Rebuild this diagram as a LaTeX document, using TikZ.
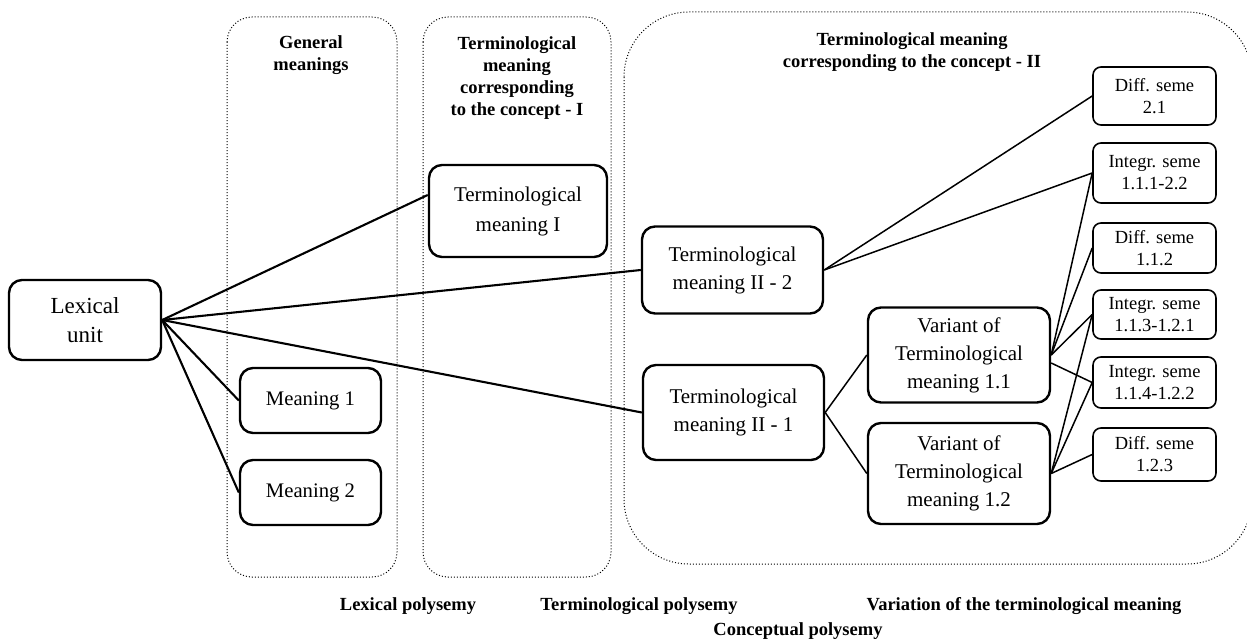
\documentclass[tikz,border=0pt]{standalone}
\usepackage{fontspec}
\setmainfont{Liberation Serif}
\usetikzlibrary{calc}
\tikzset{
  bigbox/.style={draw, line width=2.4pt, rounded corners=13pt, align=center, inner sep=0pt,
    font=\fontsize{21}{28}\selectfont},
  semebox/.style={draw, line width=1.6pt, rounded corners=8pt, align=center, inner sep=0pt,
    minimum width=123pt, font=\fontsize{18.5}{22}\selectfont},
  zone/.style={dotted, line width=1pt},
  heading/.style={align=center, inner sep=0pt, font=\bfseries\fontsize{18.5}{22}\selectfont},
  link/.style={line width=2.1pt},
  thinlink/.style={line width=1.5pt},
}
\begin{document}
\begin{tikzpicture}[x=1pt,y=-1pt]
\useasboundingbox (0,0) rectangle (1247,642);
\clip (0,0) rectangle (1247,642);

% dotted zones
\draw[zone, rounded corners=25pt] (227,17) rectangle (397,577);
\draw[zone, rounded corners=25pt] (423,17) rectangle (611,577);
\draw[zone, rounded corners=65pt] (624,12) rectangle (1252,564);

% zone headings
\node[heading] (hA) at (311,55) {General\\meanings};
\node[heading] (hB) at (517,78) {Terminological\\meaning\\corresponding\\to the concept - I};
\node[heading] (hC) at (912,52) {Terminological meaning\\corresponding to the concept - II};

% main boxes
\node[bigbox, minimum width=152pt, minimum height=80pt, font=\fontsize{23}{29}\selectfont] (lex) at (85,320) {Lexical\\unit};
\node[bigbox, minimum width=141pt, minimum height=65pt, font=\fontsize{20.7}{26}\selectfont] (m1) at (310.5,400.5) {Meaning 1};
\node[bigbox, minimum width=141pt, minimum height=65pt, font=\fontsize{20.7}{26}\selectfont] (m2) at (310.5,492.5) {Meaning 2};
\node[bigbox, minimum width=178pt, minimum height=92pt, font=\fontsize{21}{30}\selectfont] (tI) at (518,211) {Terminological\\meaning I};
\node[bigbox, minimum width=181pt, minimum height=87pt] (tII2) at (732.5,270) {Terminological\\meaning II - 2};
\node[bigbox, minimum width=181pt, minimum height=95pt] (tII1) at (733.5,412.5) {Terminological\\meaning II - 1};
\node[bigbox, minimum width=182pt, minimum height=95pt] (v11) at (959,355) {Variant of\\Terminological\\meaning 1.1};
\node[bigbox, minimum width=182pt, minimum height=101pt] (v12) at (959,473.5) {Variant of\\Terminological\\meaning 1.2};

% seme boxes
\node[semebox, minimum height=58pt] (d21) at (1154.5,96) {Diff. seme\\2.1};
\node[semebox, minimum height=60pt] (i111) at (1154.5,173) {Integr. seme\\1.1.1-2.2};
\node[semebox, minimum height=50pt] (d112) at (1154.5,248) {Diff. seme\\1.1.2};
\node[semebox, minimum height=49pt] (i113) at (1154.5,314.5) {Integr. seme\\1.1.3-1.2.1};
\node[semebox, minimum height=51pt] (i114) at (1154.5,382.5) {Integr. seme\\1.1.4-1.2.2};
\node[semebox, minimum height=53pt] (d123) at (1154.5,454.5) {Diff. seme\\1.2.3};

% connectors from the lexical unit
\draw[link] (lex.east) -- ($(tI.north west)!0.33!(tI.south west)$);
\draw[link] (lex.east) -- (tII2.west);
\draw[link] (lex.east) -- (tII1.west);
\draw[link] (lex.east) -- (m1.west);
\draw[link] (lex.east) -- (m2.west);

% terminological meaning II - 1 to its variants
\draw[thinlink] (tII1.east) -- (v11.west);
\draw[thinlink] (tII1.east) -- (v12.west);

% semes
\draw[thinlink] (tII2.east) -- (d21.west);
\draw[thinlink] (tII2.east) -- (i111.west);
\draw[thinlink] (v11.east) -- (i111.west);
\draw[thinlink] (v11.east) -- (d112.west);
\draw[thinlink] (v11.east) -- (i113.west);
\draw[thinlink] ($(v11.east)+(0,8)$) -- (i114.west);
\draw[thinlink] (v12.east) -- (i113.west);
\draw[thinlink] (v12.east) -- (i114.west);
\draw[thinlink] (v12.east) -- (d123.west);

% bottom captions
\node[heading] (capLex) at (408,606) {Lexical polysemy};
\node[heading] (capTerm) at (639,606) {Terminological polysemy};
\node[heading] (capVar) at (1024,606) {Variation of the terminological meaning};
\node[heading] (capCon) at (798,631) {Conceptual polysemy};
\end{tikzpicture}
\end{document}
